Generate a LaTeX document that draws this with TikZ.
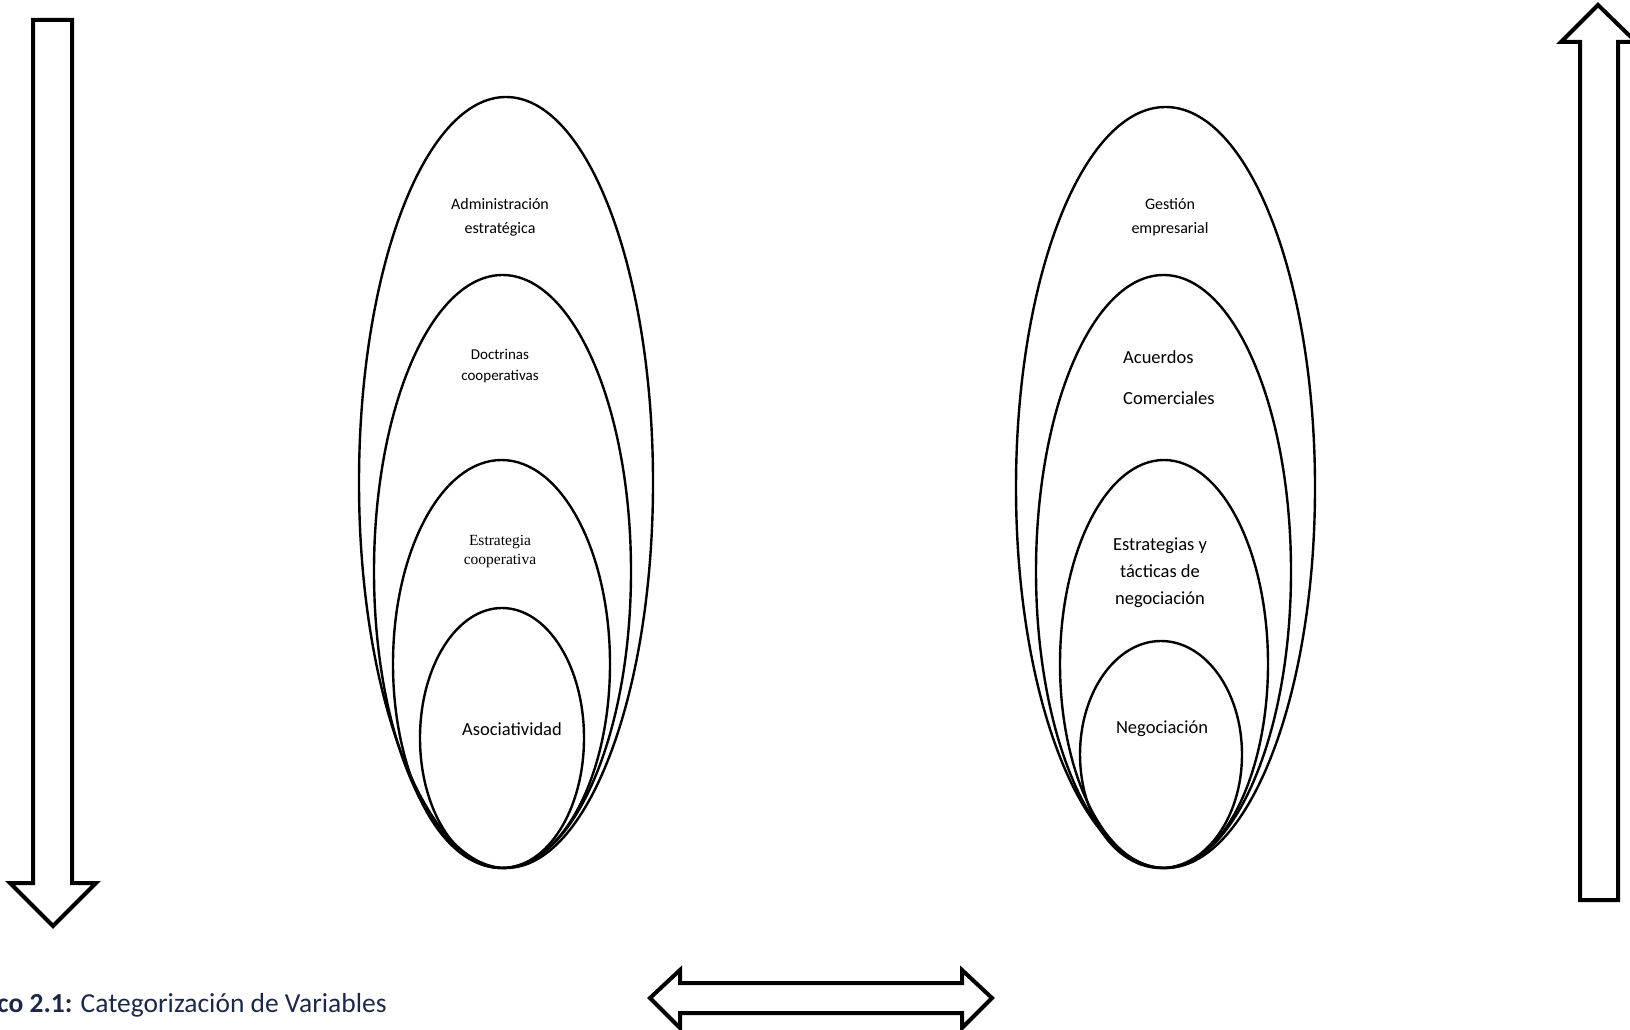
\documentclass[tikz,border=0pt]{standalone}
\usepackage{fontspec}
\setmainfont{Carlito}
\newfontfamily\serifcat{Liberation Serif}
\usetikzlibrary{positioning}
\definecolor{capblue}{RGB}{30,40,70}

\begin{document}
\begin{tikzpicture}[x=1pt,y=-1pt,line join=miter,
 capa/.style={line width=2.4pt},
 flecha/.style={line width=4pt,fill=white},
 etiq/.style={align=center,inner sep=0pt,font=\fontsize{16}{24}\selectfont},
 etiqg/.style={align=center,inner sep=0pt,font=\fontsize{18.5}{27}\selectfont}]
\useasboundingbox (0,0) rectangle (1630,1030);
% Flecha vertical izquierda, hacia abajo.
\draw[flecha] (33,20) -- (72,20) -- (72,883) -- (96,883) -- (53,926)
 -- (10,883) -- (33,883) -- cycle;
% Flecha vertical derecha, hacia arriba (la punta se corta en el borde).
\draw[flecha] (1580,900) -- (1618,900) -- (1618,42) -- (1636,42)
 -- (1598,5) -- (1561,42) -- (1580,42) -- cycle;
% Flecha doble entre ambas variables.
\draw[flecha] (680,983) -- (962,983) -- (962,970) -- (992,998)
 -- (962,1028) -- (962,1013) -- (680,1013) -- (680,1028) -- (650,998)
 -- (680,970) -- cycle;
% Variable independiente: elipses anidadas con un mismo punto inferior.
\draw[capa] (506,482.5) ellipse [x radius=147,y radius=385.5];
\draw[capa] (502.5,571.5) ellipse [x radius=128.5,y radius=296.5];
\draw[capa] (501.5,664) ellipse [x radius=108.5,y radius=204];
\draw[capa] (502,738) ellipse [x radius=82,y radius=130];
\node[etiq] (admin) at (500,217) {Administración\\estratégica};
\node[etiq,font=\fontsize{15}{21}\selectfont] (doctrinas) at (500,366)
 {Doctrinas\\cooperativas};
\node[etiq,font=\serifcat\fontsize{15.5}{19}\selectfont] (estrategia)
 at (500,552) {Estrategia\\cooperativa};
\node[etiqg] (asociatividad) at (512,729) {Asociatividad};
% Variable dependiente.
\draw[capa] (1165.5,487.5) ellipse [x radius=149.5,y radius=380.5];
\draw[capa] (1163.5,571.5) ellipse [x radius=127.5,y radius=296.5];
\draw[capa] (1164,664) ellipse [x radius=104,y radius=204];
\draw[capa] (1161,754.5) ellipse [x radius=81,y radius=113.5];
\node[etiq] (gestion) at (1170,217) {Gestión\\empresarial};
\node[etiqg,anchor=west] (acuerdos) at (1123,357) {Acuerdos};
\node[etiqg,anchor=west] (comerciales) at (1123,398) {Comerciales};
\node[etiqg] (tacticas) at (1160,573)
 {Estrategias y\\tácticas de\\negociación};
\node[etiqg] (negociacion) at (1162,729) {Negociación};
% Pie del gráfico, recortado por el borde izquierdo.
\node[anchor=base west,inner sep=0pt,text=capblue,
 font=\fontsize{27.5}{30}\selectfont] (pie) at (-3,1012)
 {\textbf{co 2.1:} Categorización de Variables};
\end{tikzpicture}
\end{document}
